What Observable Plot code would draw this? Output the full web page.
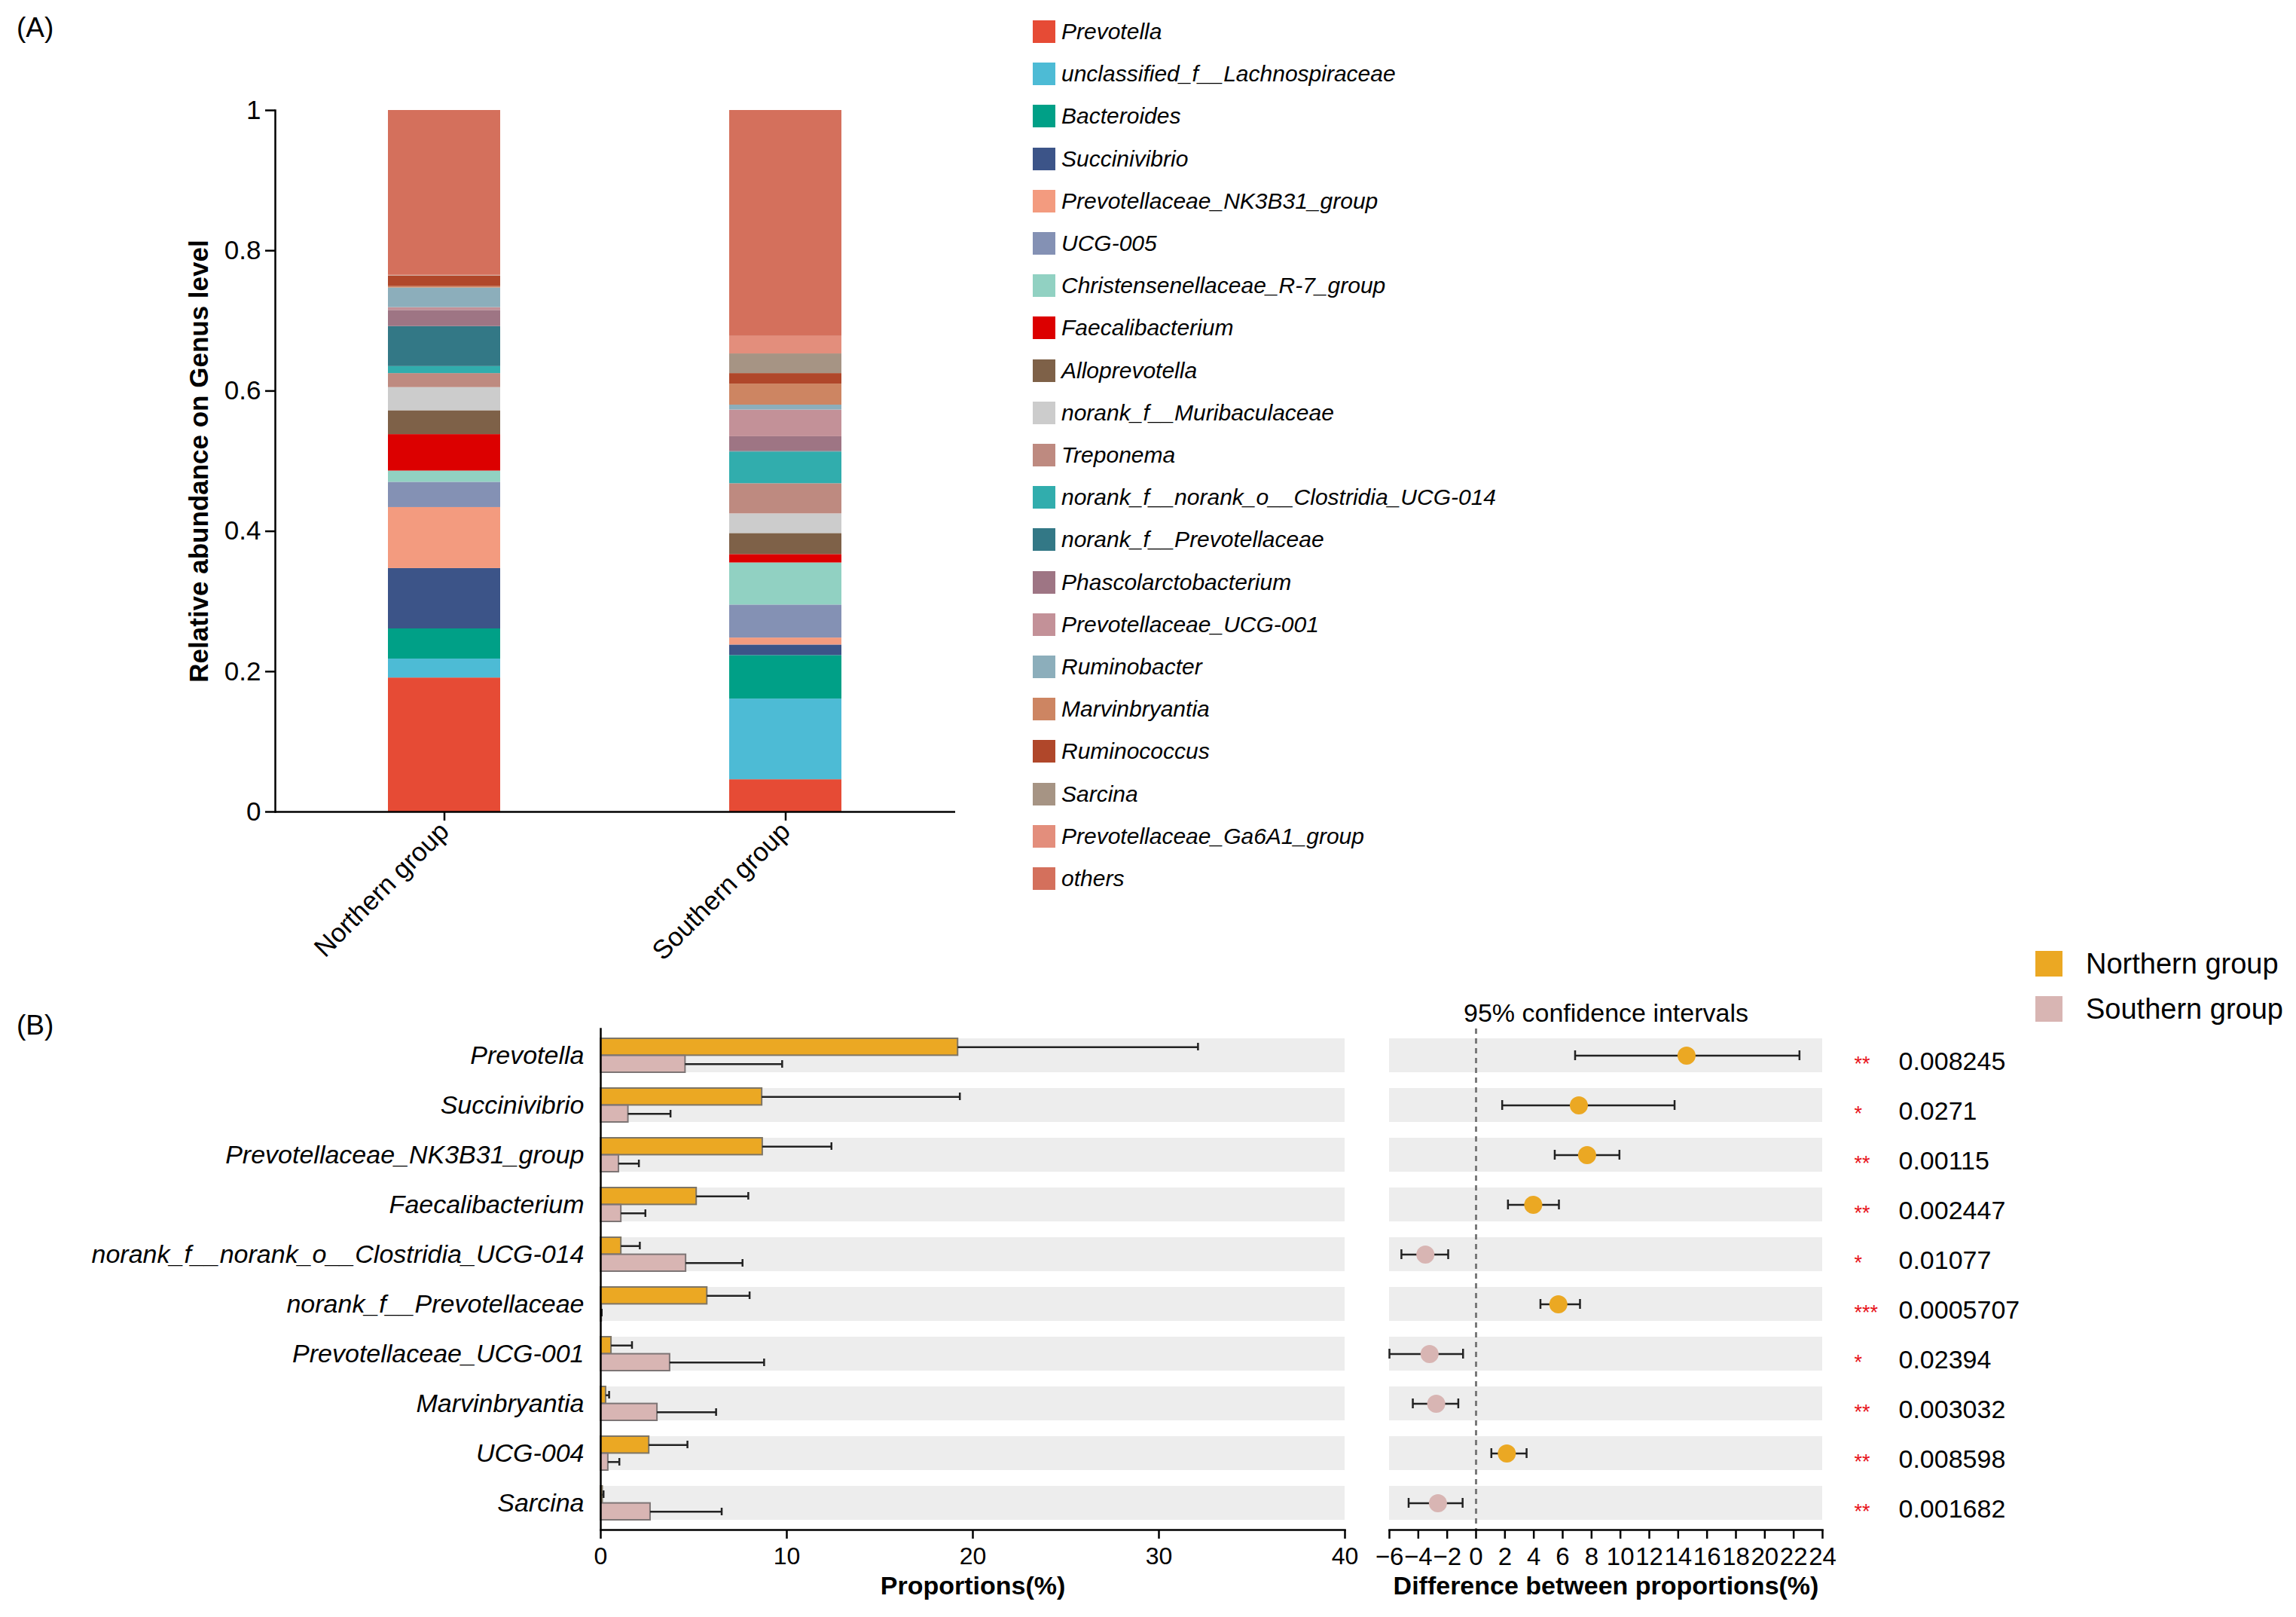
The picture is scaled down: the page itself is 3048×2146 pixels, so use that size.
<!DOCTYPE html>
<html><head><meta charset="utf-8">
<script src="https://cdn.jsdelivr.net/npm/d3@7"></script>
<script src="https://cdn.jsdelivr.net/npm/@observablehq/plot@0.6"></script>
<style>
body{margin:0;background:#fff;font-family:"Liberation Sans",Arial,sans-serif;color:#000;}
#page{position:relative;width:3048px;height:2146px;overflow:hidden;background:#fff;}
.lgA{position:absolute;display:flex;align-items:center;font-style:italic;font-size:30px;white-space:nowrap;}
.lgA .sw{width:30px;height:30px;margin-right:8px;}
.lgB{position:absolute;display:flex;align-items:center;font-size:38px;white-space:nowrap;}
.lgB .sw{width:36px;height:34px;margin-right:31px;}
</style></head><body><div id="page"></div>
<script>
// ---------- Panel A data ----------
const groups = ["Northern group", "Southern group"];
const genera = ["Prevotella","unclassified_f__Lachnospiraceae","Bacteroides","Succinivibrio","Prevotellaceae_NK3B31_group","UCG-005","Christensenellaceae_R-7_group","Faecalibacterium","Alloprevotella","norank_f__Muribaculaceae","Treponema","norank_f__norank_o__Clostridia_UCG-014","norank_f__Prevotellaceae","Phascolarctobacterium","Prevotellaceae_UCG-001","Ruminobacter","Marvinbryantia","Ruminococcus","Sarcina","Prevotellaceae_Ga6A1_group","others"];
const northernAbundance = [0.191,0.027,0.043,0.086,0.087,0.036,0.016,0.052,0.034,0.033,0.020,0.010,0.057,0.023,0.004,0.028,0.002,0.015,0.0005,0.0005,0.235];
const southernAbundance = [0.046,0.115,0.062,0.015,0.010,0.047,0.060,0.012,0.030,0.028,0.043,0.045,0.001,0.021,0.038,0.007,0.030,0.015,0.028,0.025,0.322];
const genusColors = ["#E64B35","#4DBBD5","#00A087","#3C5488","#F39B7F","#8491B4","#91D1C2","#DC0000","#7E6148","#CCCCCC","#BE8A80","#31ADAD","#337886","#9E7584","#C39198","#8CAEBB","#CD8562","#B0472A","#A69484","#E38E7C","#D4705C"];
const yTicksA = [0, 0.2, 0.4, 0.6, 0.8, 1];

// ---------- Panel B data ----------
const diffGenera = ["Prevotella","Succinivibrio","Prevotellaceae_NK3B31_group","Faecalibacterium","norank_f__norank_o__Clostridia_UCG-014","norank_f__Prevotellaceae","Prevotellaceae_UCG-001","Marvinbryantia","UCG-004","Sarcina"];
const northernMean  = [19.2, 8.67, 8.7, 5.15, 1.1, 5.72, 0.57, 0.28, 2.6, 0.1];
const northernUpper = [32.1, 19.3, 12.4, 7.93, 2.1, 8.0, 1.68, 0.45, 4.66, 0.15];
const southernMean  = [4.55, 1.48, 0.97, 1.1, 4.58, 0.05, 3.72, 3.04, 0.4, 2.67];
const southernUpper = [9.75, 3.75, 2.05, 2.4, 7.62, 0.05, 8.78, 6.2, 1.0, 6.5];
const diffEstimate = [14.58, 7.12, 7.69, 3.96, -3.51, 5.7, -3.22, -2.76, 2.13, -2.64];
const ciLower = [6.86, 1.81, 5.45, 2.21, -5.17, 4.46, -6.0, -4.38, 1.06, -4.67];
const ciUpper = [22.4, 13.75, 9.93, 5.74, -1.93, 7.2, -0.9, -1.23, 3.5, -0.93];
const pValues = ["0.008245","0.0271","0.00115","0.002447","0.01077","0.0005707","0.02394","0.003032","0.008598","0.001682"];
const stars = ["**","*","**","**","*","***","*","**","**","**"];
const propTicks = [0, 10, 20, 30, 40];
const diffTicks = [-6,-4,-2,0,2,4,6,8,10,12,14,16,18,20,22,24];
const groupColors = ["#EBA823", "#D8B5B3"];

const FONT = '"Liberation Sans", Arial, sans-serif';
const page = document.getElementById("page");
function place(el, left, top) { el.style.position = "absolute"; el.style.left = left + "px"; el.style.top = top + "px"; el.style.maxWidth = "none"; page.appendChild(el); return el; }
function label(text, left, top, size) { const d = document.createElement("div"); d.textContent = text; d.style.fontSize = size + "px"; place(d, left, top); return d; }

// ---------- Panel A ----------
const stackData = [];
groups.forEach((g, gi) => genera.forEach((s, si) => stackData.push({group: g, genus: s, value: (gi ? southernAbundance : northernAbundance)[si]})));

const plotA = Plot.plot({
  width: 1300, height: 1300,
  marginLeft: 365, marginRight: 32, marginTop: 146, marginBottom: 223,
  style: {fontFamily: FONT, fontSize: "35px", background: "transparent", color: "#000", overflow: "visible"},
  x: {domain: groups, paddingInner: 0.67, paddingOuter: 0.33, label: null},
  y: {domain: [0, 1], label: null},
  color: {domain: genera, range: genusColors},
  marks: [
    Plot.barY(stackData, {x: "group", y: "value", fill: "genus"}),
    Plot.frame({anchor: "left", strokeWidth: 2.5}),
    Plot.ruleY([0], {strokeWidth: 2.5}),
    Plot.axisY({ticks: yTicksA, tickFormat: d => String(d), tickSize: 13, tickPadding: 6, fontSize: 35, strokeWidth: 2.5, label: null}),
    Plot.axisX({tickRotate: -45, tickSize: 12, tickPadding: 8, fontSize: 35, strokeWidth: 2.5, label: null}),
    Plot.text(["Relative abundance on Genus level"], {frameAnchor: "left", textAnchor: "middle", rotate: -90, dx: -101, fontWeight: "bold", fontSize: 35})
  ]
});
place(plotA, 0, 0);
label("(A)", 22, 16, 37);

// legend A
genera.forEach((g, i) => {
  const row = document.createElement("div");
  row.className = "lgA";
  row.style.left = "1371px";
  row.style.top = (27 + 56.2 * i) + "px";
  row.style.height = "30px";
  const sw = document.createElement("div"); sw.className = "sw"; sw.style.background = genusColors[i];
  const tx = document.createElement("span"); tx.textContent = g;
  row.appendChild(sw); row.appendChild(tx);
  page.appendChild(row);
});

// ---------- Panel B ----------
const rows = diffGenera.map((g, i) => ({
  genus: g, n: northernMean[i], nUp: northernUpper[i], s: southernMean[i], sUp: southernUpper[i],
  d: diffEstimate[i], lo: ciLower[i], hi: ciUpper[i], p: pValues[i], star: stars[i]
}));
const half = 22.6;

const plotBL = Plot.plot({
  width: 1800, height: 846,
  marginLeft: 797, marginRight: 15, marginTop: 69, marginBottom: 112,
  style: {fontFamily: FONT, fontSize: "32px", background: "transparent", color: "#000", overflow: "visible"},
  x: {domain: [propTicks[0], propTicks[propTicks.length - 1]], label: null},
  y: {domain: diffGenera, paddingInner: 0.32, paddingOuter: 0.16, label: null},
  marks: [
    Plot.barX(diffGenera, {x1: propTicks[0], x2: propTicks[propTicks.length - 1], y: d => d, fill: "#EDEDED"}),
    Plot.barX(rows, {x: "n", y: "genus", fill: groupColors[0], stroke: "#7d7566", strokeWidth: 2, insetBottom: half}),
    Plot.barX(rows, {x: "s", y: "genus", fill: groupColors[1], stroke: "#7d7575", strokeWidth: 2, insetTop: half}),
    Plot.ruleY(rows, {y: "genus", x1: "n", x2: "nUp", dy: -half / 2, strokeWidth: 2.5, stroke: "#222"}),
    Plot.tickX(rows, {x: "nUp", y: "genus", insetTop: 6, insetBottom: 29, strokeWidth: 2.5, stroke: "#222"}),
    Plot.ruleY(rows, {y: "genus", x1: "s", x2: "sUp", dy: half / 2, strokeWidth: 2.5, stroke: "#222"}),
    Plot.tickX(rows, {x: "sUp", y: "genus", insetTop: 29, insetBottom: 6, strokeWidth: 2.5, stroke: "#222"}),
    Plot.frame({anchor: "left", strokeWidth: 2.5}),
    Plot.frame({anchor: "bottom", strokeWidth: 2.5}),
    Plot.axisY({tickSize: 0, tickPadding: 22, fontSize: 34, fontStyle: "italic", label: null}),
    Plot.axisX({ticks: propTicks, tickSize: 12, tickPadding: 11, fontSize: 32, strokeWidth: 2.5, label: null}),
    Plot.text(["Proportions(%)"], {frameAnchor: "bottom", dy: 85, fontWeight: "bold", fontSize: 34})
  ]
});
place(plotBL, 0, 1296);
label("(B)", 22, 1340, 37);

const plotBR = Plot.plot({
  width: 1248, height: 846,
  marginLeft: 44, marginRight: 629, marginTop: 69, marginBottom: 112,
  style: {fontFamily: FONT, fontSize: "32px", background: "transparent", color: "#000", overflow: "visible"},
  x: {domain: [diffTicks[0], diffTicks[diffTicks.length - 1]], label: null},
  y: {domain: diffGenera, paddingInner: 0.32, paddingOuter: 0.16, axis: null},
  marks: [
    Plot.barX(diffGenera, {x1: diffTicks[0], x2: diffTicks[diffTicks.length - 1], y: d => d, fill: "#EDEDED"}),
    Plot.ruleX([0], {stroke: "#7a7a7a", strokeDasharray: "7,6", strokeWidth: 3}),
    Plot.ruleY(rows, {y: "genus", x1: "lo", x2: "hi", strokeWidth: 2.5, stroke: "#222"}),
    Plot.tickX(rows, {x: "lo", y: "genus", insetTop: 16, insetBottom: 16, strokeWidth: 2.5, stroke: "#222"}),
    Plot.tickX(rows, {x: "hi", y: "genus", insetTop: 16, insetBottom: 16, strokeWidth: 2.5, stroke: "#222"}),
    Plot.dot(rows.filter(r => r.d > 0), {x: "d", y: "genus", r: 12, fill: groupColors[0]}),
    Plot.dot(rows.filter(r => r.d <= 0), {x: "d", y: "genus", r: 12, fill: groupColors[1]}),
    Plot.frame({anchor: "bottom", strokeWidth: 2.5}),
    Plot.axisX({ticks: diffTicks, tickSize: 12, tickPadding: 11, fontSize: 33, strokeWidth: 2.5, label: null}),
    Plot.text(["95% confidence intervals"], {frameAnchor: "top", dy: -34, fontSize: 34}),
    Plot.text(["Difference between proportions(%)"], {frameAnchor: "bottom", dy: 85, fontWeight: "bold", fontSize: 34}),
    Plot.text(rows, {y: "genus", text: "star", frameAnchor: "right", dx: 42, dy: 11, textAnchor: "start", fill: "#E8141B", fontSize: 27}),
    Plot.text(rows, {y: "genus", text: "p", frameAnchor: "right", dx: 101, dy: 8, textAnchor: "start", fontSize: 34})
  ]
});
place(plotBR, 1800, 1296);

// legend B
groups.forEach((g, i) => {
  const row = document.createElement("div");
  row.className = "lgB";
  row.style.left = "2702px";
  row.style.top = (1262 + 60 * i) + "px";
  row.style.height = "34px";
  const sw = document.createElement("div"); sw.className = "sw"; sw.style.background = groupColors[i];
  const tx = document.createElement("span"); tx.textContent = g;
  row.appendChild(sw); row.appendChild(tx);
  page.appendChild(row);
});
</script></body></html>
